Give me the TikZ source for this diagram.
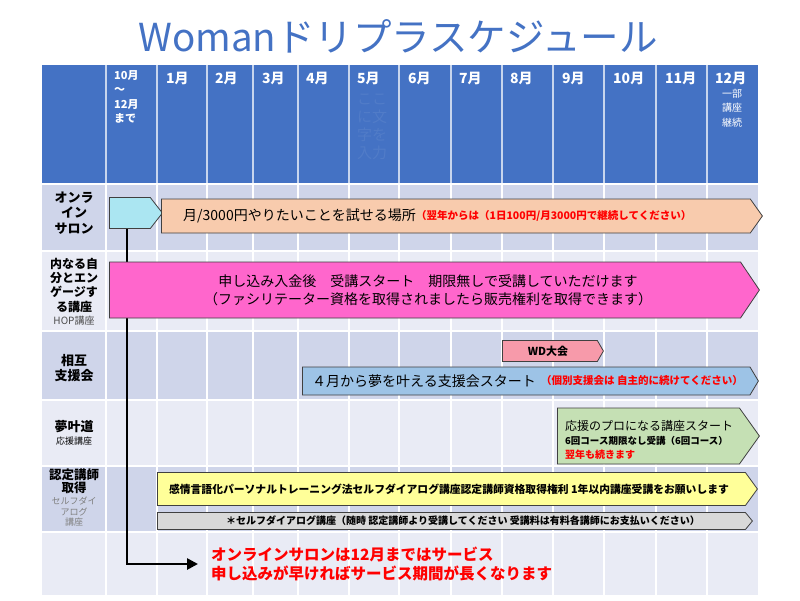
\documentclass[tikz,border=0pt]{standalone}
\usepackage{fontspec}
\setmainfont{Noto Sans CJK JP}
\usepackage{tikz}
\usetikzlibrary{backgrounds, shapes.symbols, arrows.meta, positioning}
\definecolor{hdrblue}{HTML}{4472C4}
\definecolor{rowdark}{HTML}{CFD5EA}
\definecolor{rowlight}{HTML}{E9EBF5}
\definecolor{salon}{HTML}{ABE6F2}
\definecolor{peach}{HTML}{F8CBAD}
\definecolor{magen}{HTML}{FF66CC}
\definecolor{wdpink}{HTML}{F79AAA}
\definecolor{skyblue}{HTML}{9DC3E6}
\definecolor{mint}{HTML}{C5E0B4}
\definecolor{lemon}{HTML}{FFFF99}
\definecolor{lgray}{HTML}{D9D9D9}
\tikzstyle{bar}=[draw=black!75, line width=0.8pt, shape=signal, signal to=east, anchor=west, inner sep=0pt]
\tikzstyle{mon}=[text=white, anchor=west, inner sep=0pt, font=\fontsize{14}{16}\selectfont\bfseries]
\tikzstyle{lab}=[align=center, inner sep=0pt, font=\fontsize{13}{15.5}\selectfont\bfseries]
\tikzstyle{sub}=[align=center, inner sep=0pt, text=black!70, font=\fontsize{9}{10.5}\selectfont]
\tikzstyle{big}=[inner sep=0pt, font=\fontsize{14}{18}\selectfont]
\tikzstyle{note}=[inner sep=0pt, text=red, font=\fontsize{10.5}{12}\selectfont\bfseries]

\begin{document}
\begin{tikzpicture}[x=1pt, y=-1pt]
		\useasboundingbox (0,0) rectangle (800,600);

		% table
		\begin{scope}[on background layer]
			\fill[white] (0,0) rectangle (800,600);
			\fill[hdrblue] (42,65) rectangle (758,183);
			\foreach \ya/\yb/\c in {185/251/rowdark, 251/331/rowlight, 331/400/rowdark, 400/466/rowlight, 466/532/rowdark, 532/595/rowlight}
				\fill[\c] (42,\ya) rectangle (758,\yb);
			\foreach \x in {106,157,207,253,298,349,399,451,502,553,604,656,707} {
				\draw[white!70!hdrblue, line width=1.5pt] (\x,65) -- (\x,183);
				\draw[white, line width=1.5pt] (\x,185) -- (\x,595);
			}
			\foreach \y in {251,331,400,466,532}
				\draw[white, line width=1.5pt] (42,\y) -- (758,\y);
		\end{scope}

		\node[text=hdrblue, font=\fontsize{38.5}{40}\selectfont] (0) at (398,36) {Womanドリプラスケジュール};

		% header
		\node[mon, anchor=north west, align=left, font=\fontsize{11}{14.5}\selectfont\bfseries] (1) at (114,70) {10月\\〜\\12月\\まで};
		\node[mon] (2) at (166,78) {1月};
		\node[mon] (3) at (215,78) {2月};
		\node[mon] (4) at (262,78) {3月};
		\node[mon] (5) at (306,78) {4月};
		\node[mon] (6) at (357,78) {5月};
		\node[mon] (7) at (408,78) {6月};
		\node[mon] (8) at (459,78) {7月};
		\node[mon] (9) at (510,78) {8月};
		\node[mon] (10) at (562,78) {9月};
		\node[mon] (11) at (613,78) {10月};
		\node[mon] (12) at (665,78) {11月};
		\node[mon] (13) at (715,78) {12月};
		\node[text=white, align=center, inner sep=0pt, font=\fontsize{10}{14.5}\selectfont] (14) at (732,108) {一部\\講座\\継続};
		\node[text=hdrblue!93!white, align=center, inner sep=0pt, font=\fontsize{15}{18}\selectfont] (15) at (372,127) {ここ\\に文\\字を\\入力};

		% row labels
		\node[lab] (16) at (74,213) {オンラ\\イン\\サロン};
		\node[lab, font=\fontsize{12}{14.3}\selectfont\bfseries] (17) at (74,285) {内なる自\\分とエン\\ゲージす\\る講座};
		\node[sub, font=\fontsize{10}{12}\selectfont, below=4pt of 17] (18) {HOP講座};
		\node[lab] (19) at (74,368) {相互\\支援会};
		\node[lab] (20) at (74,427) {夢叶道};
		\node[sub, text=black, below=3pt of 20] (21) {応援講座};
		\node[lab, font=\fontsize{12.5}{13.5}\selectfont\bfseries] (22) at (74,481) {認定講師\\取得};
		\node[sub, text=black!50, below=3pt of 22] (23) {セルフダイ\\アログ\\講座};

		% bars
		\node[bar, fill=salon, minimum width=53, minimum height=31, signal pointer angle=104] (24) at (109,213) {};
		\node[bar, fill=peach, minimum width=601, minimum height=34, signal pointer angle=109] (25) at (161,216) {};
		\node[bar, fill=magen, minimum width=650, minimum height=56, signal pointer angle=112] (26) at (109,290) {};
		\node[bar, fill=wdpink, minimum width=101, minimum height=21, signal pointer angle=120] (27) at (502,351) {};
		\node[bar, fill=skyblue, minimum width=456, minimum height=28, signal pointer angle=118] (28) at (302,381) {};
		\node[bar, fill=mint, minimum width=202, minimum height=56, signal pointer angle=109] (29) at (557,436) {};
		\node[bar, fill=lemon, minimum width=600, minimum height=33, signal pointer angle=108] (30) at (157,489) {};
		\node[bar, fill=lgray, minimum width=595, minimum height=17, signal pointer angle=101] (31) at (157,521) {};

		% texts
		\node[big, anchor=west] (32) at (183,216) {月/3000円やりたいことを試せる場所};
		\node[note, right=0pt of 32] (33) {（翌年からは（1日100円/月3000円で継続してください）};
		\node[big, align=center] (34) at (428,290) {申し込み入金後\hspace{1em}受講スタート\hspace{1em}期限無しで受講していただけます\\（ファシリテーター資格を取得されましたら販売権利を取得できます）};
		\node[inner sep=0pt, font=\fontsize{11}{13}\selectfont\bfseries] (35) at (548,351) {WD大会};
		\node[big, anchor=west] (36) at (312,381) {４月から夢を叶える支援会スタート};
		\node[note, right=5pt of 36] (37) {（個別支援会は 自主的に続けてください）};
		\node[inner sep=0pt, anchor=west, font=\fontsize{12}{14}\selectfont] (38) at (565,426) {応援のプロになる講座スタート};
		\node[inner sep=0pt, anchor=west, font=\fontsize{9.5}{12}\selectfont\bfseries] (39) at (565,441) {6回コース期限なし受講（6回コース）};
		\node[note, font=\fontsize{10}{12}\selectfont\bfseries, anchor=west] (40) at (565,455) {翌年も続きます};
		\node[inner sep=0pt, font=\fontsize{10.8}{13}\selectfont\bfseries] (41) at (449,489) {感情言語化パーソナルトレーニング法セルフダイアログ講座認定講師資格取得権利 1年以内講座受講をお願いします};
		\node[inner sep=0pt, font=\fontsize{10}{12}\selectfont\bfseries] (42) at (463,521) {＊セルフダイアログ講座（随時 認定講師より受講してください 受講料は有料各講師にお支払いください）};
		\node[inner sep=0pt, anchor=west, align=left, text=red, font=\fontsize{15.5}{19}\selectfont\bfseries] (43) at (211,564) {オンラインサロンは12月まではサービス\\申し込みが早ければサービス期間が長くなります};

		\begin{scope}[on background layer]
			\draw[line width=2.6pt, -{Triangle[length=11pt, width=11pt]}] ([xshift=18pt]24.south west) |- ([xshift=-13pt]43.west);
		\end{scope}
	\end{tikzpicture}
\end{document}
